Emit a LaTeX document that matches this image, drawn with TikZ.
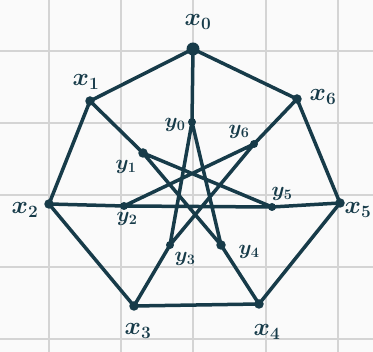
\documentclass[tikz,border=0pt]{standalone}
\usepackage{amsmath}
\definecolor{ink}{HTML}{173B49}
\definecolor{gridc}{HTML}{D4D4D4}
\definecolor{paper}{HTML}{FAFAFA}
\tikzset{
  vtx/.style={circle,fill=ink,inner sep=0pt,minimum size=9.5pt},
  bigvtx/.style={circle,fill=ink,inner sep=0pt,minimum size=13pt},
  yvtx/.style={circle,fill=ink,inner sep=0pt,minimum size=8pt},
  edge/.style={draw=ink,line width=3.5pt,line cap=round,line join=round},
  xlab/.style={text=ink,font=\fontsize{25}{27}\selectfont\boldmath,inner sep=0pt},
  ylab/.style={text=ink,font=\fontsize{22}{24}\selectfont\boldmath,inner sep=0pt},
  gridline/.style={draw=gridc,line width=1.5pt}
}
\begin{document}
\begin{tikzpicture}[x=1pt,y=-1pt]
\fill[paper] (0,0) rectangle (373,352);
\useasboundingbox (0,0) rectangle (373,352);
% grid
\foreach \gx in {49,121,193,266,338} \draw[gridline] (\gx,0) -- (\gx,352);
\foreach \gy in {51,123,195,267,339} \draw[gridline] (0,\gy) -- (373,\gy);
% outer vertices
\node[bigvtx] (x0) at (193,49) {};
\node[vtx] (x1) at (90,101) {};
\node[vtx] (x2) at (49,204) {};
\node[vtx] (x3) at (134,306) {};
\node[vtx] (x4) at (259,304) {};
\node[vtx] (x5) at (340,203) {};
\node[vtx] (x6) at (297,99) {};
% inner vertices
\node[yvtx] (y0) at (192,122) {};
\node[vtx] (y1) at (143,153) {};
\node[yvtx] (y2) at (124,206) {};
\node[yvtx] (y3) at (170,245) {};
\node[vtx] (y4) at (221,245) {};
\node[yvtx] (y5) at (272,207) {};
\node[yvtx] (y6) at (254,144) {};
% edges
\draw[edge] (x0.center) -- (x1.center) -- (x2.center) -- (x3.center) -- (x4.center) -- (x5.center) -- (x6.center) -- cycle;
\foreach \i in {0,...,6} \draw[edge] (x\i.center) -- (y\i.center);
\draw[edge] (y0.center) -- (y3.center) -- (y6.center) -- (y2.center) -- (y5.center) -- (y1.center) -- (y4.center) -- cycle;
% labels
\node[xlab] (lx0) at (198,22) {$x_0$};
\node[xlab] (lx1) at (86,82) {$x_1$};
\node[xlab] (lx6) at (323,97) {$x_6$};
\node[xlab] (lx2) at (25,210) {$x_2$};
\node[xlab] (lx5) at (358,210) {$x_5$};
\node[xlab] (lx3) at (138,331) {$x_3$};
\node[xlab] (lx4) at (267,332) {$x_4$};
\node[ylab] (ly0) at (175,125) {$y_0$};
\node[ylab] (ly6) at (239,132) {$y_6$};
\node[ylab] (ly1) at (126,167) {$y_1$};
\node[ylab] (ly2) at (127,219) {$y_2$};
\node[ylab] (ly5) at (282,194) {$y_5$};
\node[ylab] (ly3) at (185,259) {$y_3$};
\node[ylab] (ly4) at (249,252) {$y_4$};
\end{tikzpicture}
\end{document}
